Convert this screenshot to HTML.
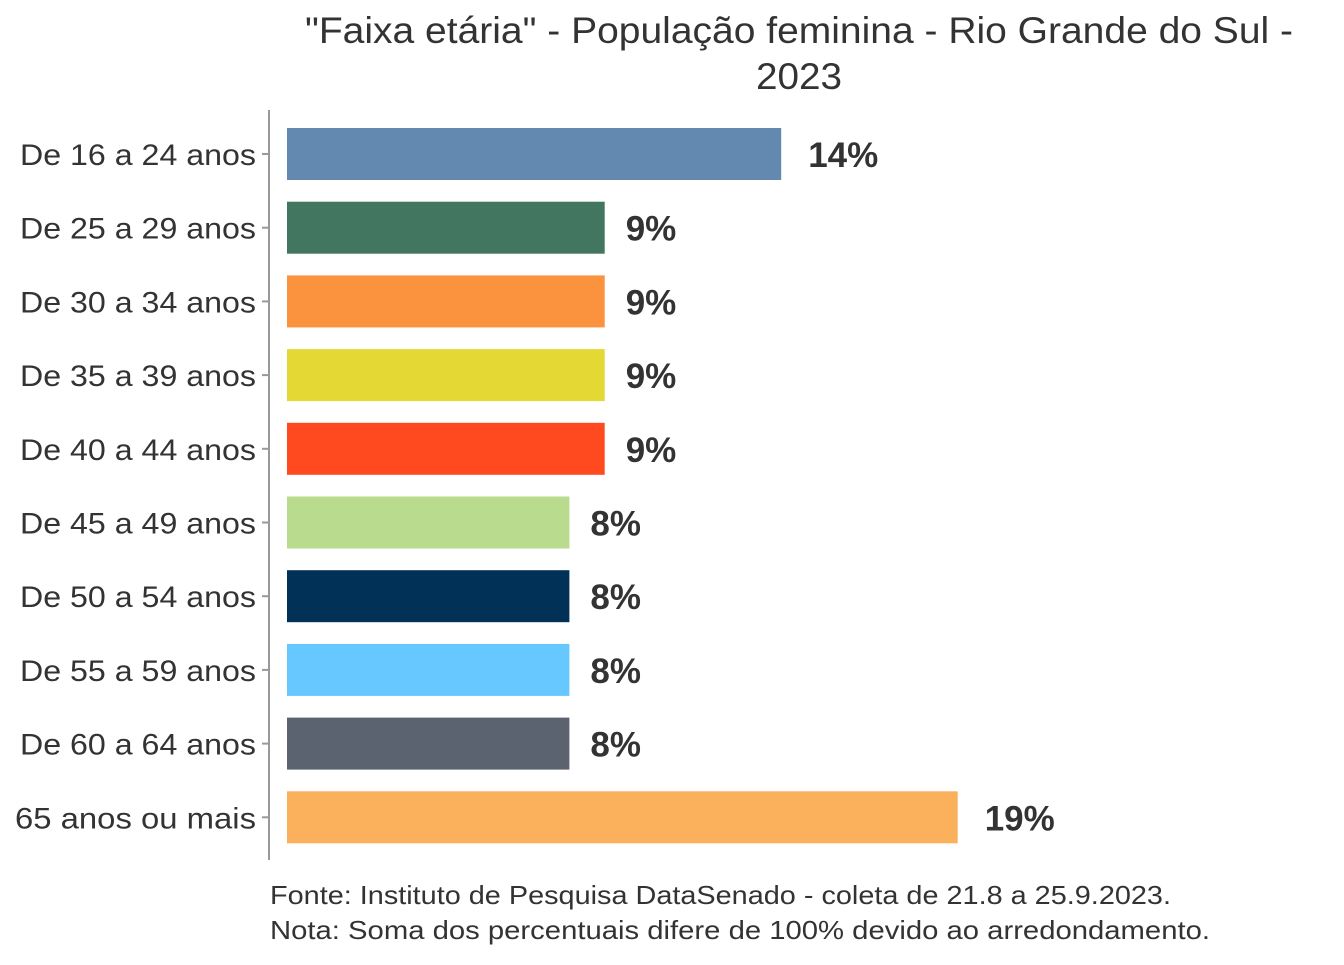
<!DOCTYPE html>
<html><head><meta charset="utf-8"><style>
body{margin:0;background:#fff;}
svg text{font-family:"Liberation Sans",sans-serif;}
</style></head><body>
<svg id="chart" width="1344" height="960" viewBox="0 0 1344 960" xmlns="http://www.w3.org/2000/svg">
<g>
<text x="799" y="43" text-anchor="middle" font-size="37" fill="#333" textLength="988" lengthAdjust="spacingAndGlyphs">"Faixa etária" - População feminina - Rio Grande do Sul -</text>
<text x="799" y="89" text-anchor="middle" font-size="37" fill="#333" textLength="86" lengthAdjust="spacingAndGlyphs">2023</text>
</g>
<line x1="269" y1="110" x2="269" y2="860" stroke="#999" stroke-width="2"/>
<g id="bars"></g>
<g>
<text x="270" y="904" font-size="26" fill="#333" textLength="901" lengthAdjust="spacingAndGlyphs">Fonte: Instituto de Pesquisa DataSenado - coleta de 21.8 a 25.9.2023.</text>
<text x="270" y="939" font-size="26" fill="#333" textLength="940" lengthAdjust="spacingAndGlyphs">Nota: Soma dos percentuais difere de 100% devido ao arredondamento.</text>
</g>
</svg>
<script>
const categories=["De 16 a 24 anos","De 25 a 29 anos","De 30 a 34 anos","De 35 a 39 anos","De 40 a 44 anos","De 45 a 49 anos","De 50 a 54 anos","De 55 a 59 anos","De 60 a 64 anos","65 anos ou mais"];
const values=[14,9,9,9,9,8,8,8,8,19];
const colors=["#6489b0","#437661","#fb923d","#e4d834","#ff4a20","#b8db8e","#013157","#66c8fe","#5c6370","#fbb15c"];
const ns="http://www.w3.org/2000/svg";
const g=document.getElementById('bars');
const x0=287,pxPer=35.3,y0=154,step=73.7,bh=52;
const xs=v=>x0+v*pxPer, ys=i=>y0+i*step;
function mk(t,a){const e=document.createElementNS(ns,t);for(const k in a)e.setAttribute(k,a[k]);g.appendChild(e);return e;}
categories.forEach((c,i)=>{
  const cy=ys(i);
  const r=mk('rect',{x:x0,y:cy-bh/2,width:xs(values[i])-x0,height:bh,fill:colors[i]});
  
  
  const t=mk('line',{x1:262,x2:269,y1:cy,y2:cy,stroke:'#999','stroke-width':2});
  
  
  const l=mk('text',{x:256,y:cy+11,'text-anchor':'end','font-size':30,fill:'#333',textLength:(c.startsWith('65')?241:236),lengthAdjust:'spacingAndGlyphs'});
  l.textContent=c;
  
  
  const v=mk('text',{x:xs(values[i])+(values[i]<10?21:27),y:cy+13,'font-size':35,'font-weight':'bold',fill:'#333'});
  v.textContent=values[i]+'%';
  
  
});
</script>
</body></html>
